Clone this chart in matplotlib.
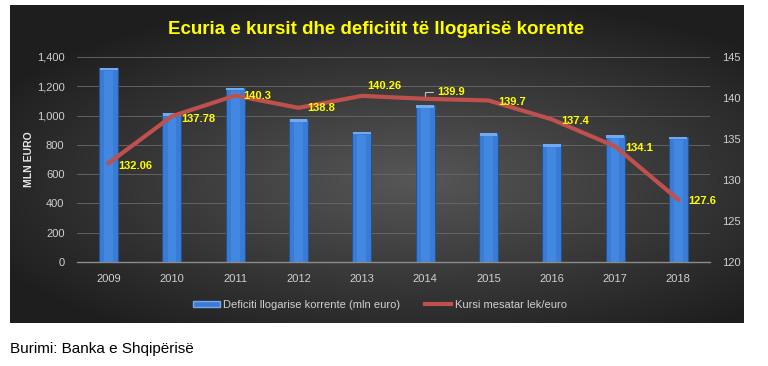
import numpy as np
import matplotlib
matplotlib.use("Agg")
import matplotlib.pyplot as plt
from matplotlib.lines import Line2D
from matplotlib.patches import Patch

# data
years = ["2009", "2010", "2011", "2012", "2013", "2014", "2015", "2016", "2017", "2018"]
deficit = [1327, 1015, 1190, 974, 890, 1070, 879, 806, 865, 856]
kursi = [132.06, 137.78, 140.3, 138.8, 140.26, 139.9, 139.7, 137.4, 134.1, 127.6]
kursi_labels = ["132.06", "137.78", "140.3", "138.8", "140.26", "139.9", "139.7", "137.4", "134.1", "127.6"]
# label offsets (points)
offsets = [(7, -2), (7, -2), (6, 0), (6, 0), (4, 7), (9, 5), (7, -1), (7, -1), (7, -1), (7, -1)]

plt.rcParams["font.family"] = ["Liberation Sans", "DejaVu Sans"]

fig = plt.figure(figsize=(7.68, 3.66), dpi=100)
fig.patch.set_facecolor("white")

# dark panel with radial gradient
bg = fig.add_axes([10 / 768, 1 - 323 / 366, 734 / 768, 318 / 366])
yy, xx = np.mgrid[-1:1:200j, -1:1:400j]
r = np.sqrt(((xx - 0.1) / 1.0) ** 2 + ((yy - 0.1) / 0.9) ** 2)
shade = np.clip(0.34 - 0.17 * r, 0.12, 0.34)
bg.imshow(np.dstack([shade] * 3), aspect="auto", extent=[0, 1, 0, 1])
bg.set_axis_off()

ax = fig.add_axes([77 / 768, 1 - 262 / 366, 633 / 768, 205 / 366])
ax.set_facecolor("none")
x = np.arange(len(years))
ax.bar(x, deficit, width=0.3, color="#3a7bd5", edgecolor="#24548f",
       linewidth=0.8, zorder=2)
# lighter inner stripe and top cap to mimic the bar gradient
ax.bar(x, np.array(deficit) - 20, width=0.14, color="#4288e0", linewidth=0, zorder=2)
ax.bar(x, [18] * len(x), bottom=np.array(deficit) - 18, width=0.28,
       color="#72a9ef", linewidth=0, zorder=2)

ax.set_ylim(0, 1400)
ax.set_xlim(-0.5, len(years) - 0.5)
ax.set_yticks(range(0, 1401, 200))
ax.set_yticklabels([f"{v:,}" for v in range(0, 1401, 200)])
ax.set_xticks(x)
ax.set_xticklabels(years)
ax.grid(axis="y", color="#6a6a6a", linewidth=0.6, zorder=0)
ax.set_axisbelow(True)
for s in ["top", "right", "left"]:
    ax.spines[s].set_visible(False)
ax.spines["bottom"].set_color("#8c8c8c")
ax.spines["bottom"].set_linewidth(1.0)
ax.tick_params(axis="both", length=0, colors="#d0d0d0", labelsize=8)
ax.tick_params(axis="y", pad=9)
ax.tick_params(axis="x", pad=9)
ax.set_ylabel("MLN EURO", color="#e8e8e8", fontsize=7.5, fontweight="bold", labelpad=2)

ax2 = ax.twinx()
ax2.plot(x, kursi, color="#c0504d", linewidth=3, zorder=3)
ax2.set_ylim(120, 145)
ax2.set_yticks(range(120, 146, 5))
for s in ax2.spines.values():
    s.set_visible(False)
ax2.tick_params(axis="y", length=0, colors="#d0d0d0", labelsize=8, pad=9)

for i, (v, lab) in enumerate(zip(kursi, kursi_labels)):
    dx, dy = offsets[i]
    if i == 5:
        ax2.annotate(lab, (i, v), xytext=(dx, dy), textcoords="offset points",
                     color="#ffff00", fontsize=8, fontweight="bold", va="center", ha="left",
                     arrowprops=dict(arrowstyle="-", color="#bfbfbf", lw=0.8,
                                     connectionstyle="angle,angleA=0,angleB=90,rad=0",
                                     shrinkA=1, shrinkB=2))
    else:
        ax2.annotate(lab, (i, v), xytext=(dx, dy), textcoords="offset points",
                     color="#ffff00", fontsize=8, fontweight="bold", va="center", ha="left")

fig.text(376 / 768, 1 - 29 / 366, "Ecuria e kursit dhe deficitit të llogarisë korente",
         color="#ffff00", fontsize=13.5, fontweight="bold", ha="center", va="center")

handles = [Patch(facecolor="#3a7bd5", edgecolor="#72a9ef"),
           Line2D([0], [0], color="#c0504d", linewidth=3)]
leg = fig.legend(handles, ["Deficiti llogarise korrente (mln euro)", "Kursi mesatar lek/euro"],
                 loc="center", bbox_to_anchor=(380 / 768, 1 - 305 / 366), ncol=2,
                 frameon=False, fontsize=8, handlelength=2.4, handleheight=0.5,
                 columnspacing=2.2, handletextpad=0.3)
for t in leg.get_texts():
    t.set_color("#d0d0d0")

fig.text(10 / 768, 1 - 349 / 366, "Burimi: Banka e Shqipërisë", color="black",
         fontsize=11, ha="left", va="center")

fig.savefig("out.png", dpi=100)
